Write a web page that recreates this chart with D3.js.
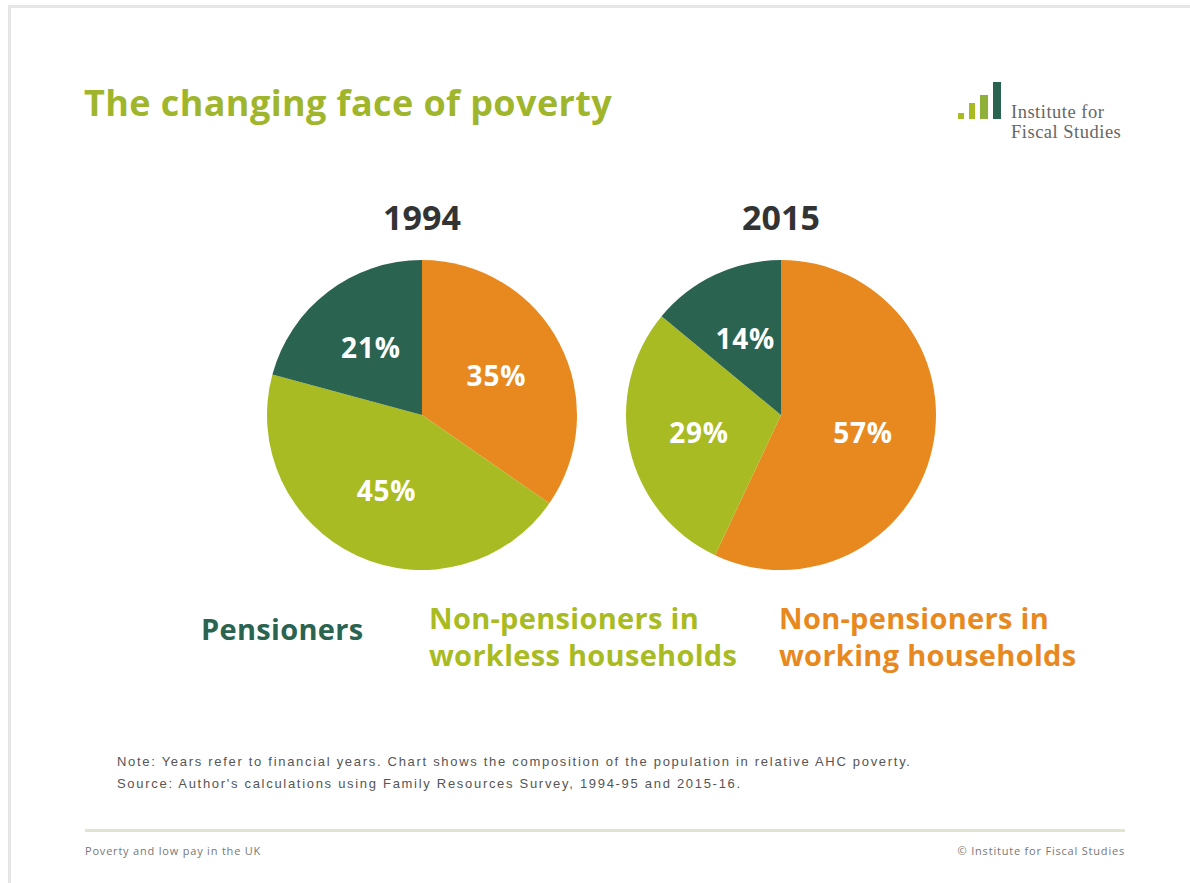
<!DOCTYPE html>
<html>
<head>
<meta charset="utf-8">
<script src="https://cdn.jsdelivr.net/npm/d3@7"></script>
<style>
  body { margin: 0; background: #fff; }
  svg { display: block; }
</style>
</head>
<body>
<div id="chart"></div>
<script>
// Data
const categories = ["Non-pensioners in working households", "Non-pensioners in workless households", "Pensioners"];
const years = ["1994", "2015"];
const shares1994 = [35, 45, 21];
const shares2015 = [57, 29, 14];
const colors = ["#e8891f", "#a9bb22", "#2b6351"];

const width = 1190;
const height = 883;

const svg = d3.select('#chart').append('svg')
  .attr('width', width)
  .attr('height', height);

// slide frame (top and left edges)
svg.append('rect').attr('x', 8).attr('y', 5).attr('width', width).attr('height', 3).attr('fill', '#e6e6e6');
svg.append('rect').attr('x', 8).attr('y', 5).attr('width', 3).attr('height', height).attr('fill', '#e6e6e6');

// Title
svg.append('text')
  .attr('x', 84).attr('y', 116)
  .attr('font-family', 'Open Sans, sans-serif')
  .attr('font-weight', 700)
  .attr('font-size', 36)
  .attr('letter-spacing', 0.4)
  .attr('fill', '#9fb62c')
  .text('The changing face of poverty');

// Logo
const logoBars = [
  { h: 6, w: 6, c: '#a9bb22' },
  { h: 16, w: 6, c: '#a9bb22' },
  { h: 24, w: 8, c: '#8fb13a' },
  { h: 37, w: 8, c: '#2b6351' }
];
const logo = svg.append('g').attr('transform', 'translate(958,119)');
let lx = 0;
logoBars.forEach(b => {
  logo.append('rect').attr('x', lx).attr('y', -b.h).attr('width', b.w).attr('height', b.h).attr('fill', b.c);
  lx += b.w + 5;
});
svg.append('text').attr('x', 1011).attr('y', 118)
  .attr('font-family', 'Liberation Serif, serif').attr('font-size', 18.5).attr('letter-spacing', 0.5).attr('fill', '#666')
  .text('Institute for');
svg.append('text').attr('x', 1011).attr('y', 138)
  .attr('font-family', 'Liberation Serif, serif').attr('font-size', 18.5).attr('letter-spacing', 0.5).attr('fill', '#666')
  .text('Fiscal Studies');

// Pies
const radius = 155;
const xScale = d3.scalePoint().domain(years).range([422, 781]);
const pie = d3.pie().sort(null).value(d => d);
const arc = d3.arc().innerRadius(0).outerRadius(radius);
const labelArc = d3.arc().innerRadius(84).outerRadius(84);

[shares1994, shares2015].forEach((vals, i) => {
  const cx = xScale(years[i]);
  const g = svg.append('g').attr('transform', `translate(${cx},415)`);

  g.selectAll('path')
    .data(pie(vals))
    .enter().append('path')
    .attr('d', arc)
    .attr('fill', (d, j) => colors[j]);

  g.selectAll('.lbl')
    .data(pie(vals))
    .enter().append('text')
    .attr('class', 'lbl')
    .attr('transform', d => `translate(${labelArc.centroid(d)})`)
    .attr('text-anchor', 'middle')
    .attr('dy', '0.35em')
    .attr('font-family', 'Open Sans, sans-serif')
    .attr('font-weight', 700)
    .attr('font-size', 28)
    .attr('letter-spacing', 0.8)
    .attr('fill', '#fff')
    .text(d => d.data + '%');

  svg.append('text')
    .attr('x', cx).attr('y', 230)
    .attr('text-anchor', 'middle')
    .attr('font-family', 'Open Sans, sans-serif')
    .attr('font-weight', 700)
    .attr('font-size', 34)
    .attr('fill', '#333')
    .text(years[i]);
});

// Legend
const legend = [
  { lines: ['Pensioners'], x: 201, y: 640, c: colors[2] },
  { lines: ['Non-pensioners in'], x: 429, y: 629, c: colors[1] },
  { lines: ['workless households'], x: 429, y: 666, c: colors[1] },
  { lines: ['Non-pensioners in'], x: 779, y: 629, c: colors[0] },
  { lines: ['working households'], x: 779, y: 666, c: colors[0] }
];
legend.forEach(l => {
  l.lines.forEach(t => {
    svg.append('text')
      .attr('x', l.x).attr('y', l.y)
      .attr('font-family', 'Open Sans, sans-serif')
      .attr('font-weight', 700)
      .attr('font-size', 29)
      .attr('letter-spacing', 0.3)
      .attr('fill', l.c)
      .text(t);
  });
});

// Notes
const notes = [
  'Note: Years refer to financial years. Chart shows the composition of the population in relative AHC poverty.',
  "Source: Author's calculations using Family Resources Survey, 1994-95 and 2015-16."
];
notes.forEach((t, k) => {
  svg.append('text')
    .attr('x', 117).attr('y', 766 + k * 22)
    .attr('font-family', 'Liberation Sans, Arial, sans-serif')
    .attr('font-size', 13)
    .attr('letter-spacing', 1.7)
    .attr('fill', '#555')
    .text(t);
});

// Footer
svg.append('rect').attr('x', 85).attr('y', 829).attr('width', 1040).attr('height', 3).attr('fill', '#dfe5cf');
svg.append('text').attr('x', 85).attr('y', 855)
  .attr('font-family', 'Open Sans, sans-serif').attr('font-size', 11).attr('letter-spacing', 0.8).attr('fill', '#777')
  .text('Poverty and low pay in the UK');
svg.append('text').attr('x', 1125).attr('y', 855).attr('text-anchor', 'end')
  .attr('font-family', 'Open Sans, sans-serif').attr('font-size', 11).attr('letter-spacing', 0.8).attr('fill', '#777')
  .text('© Institute for Fiscal Studies');
</script>
</body>
</html>
